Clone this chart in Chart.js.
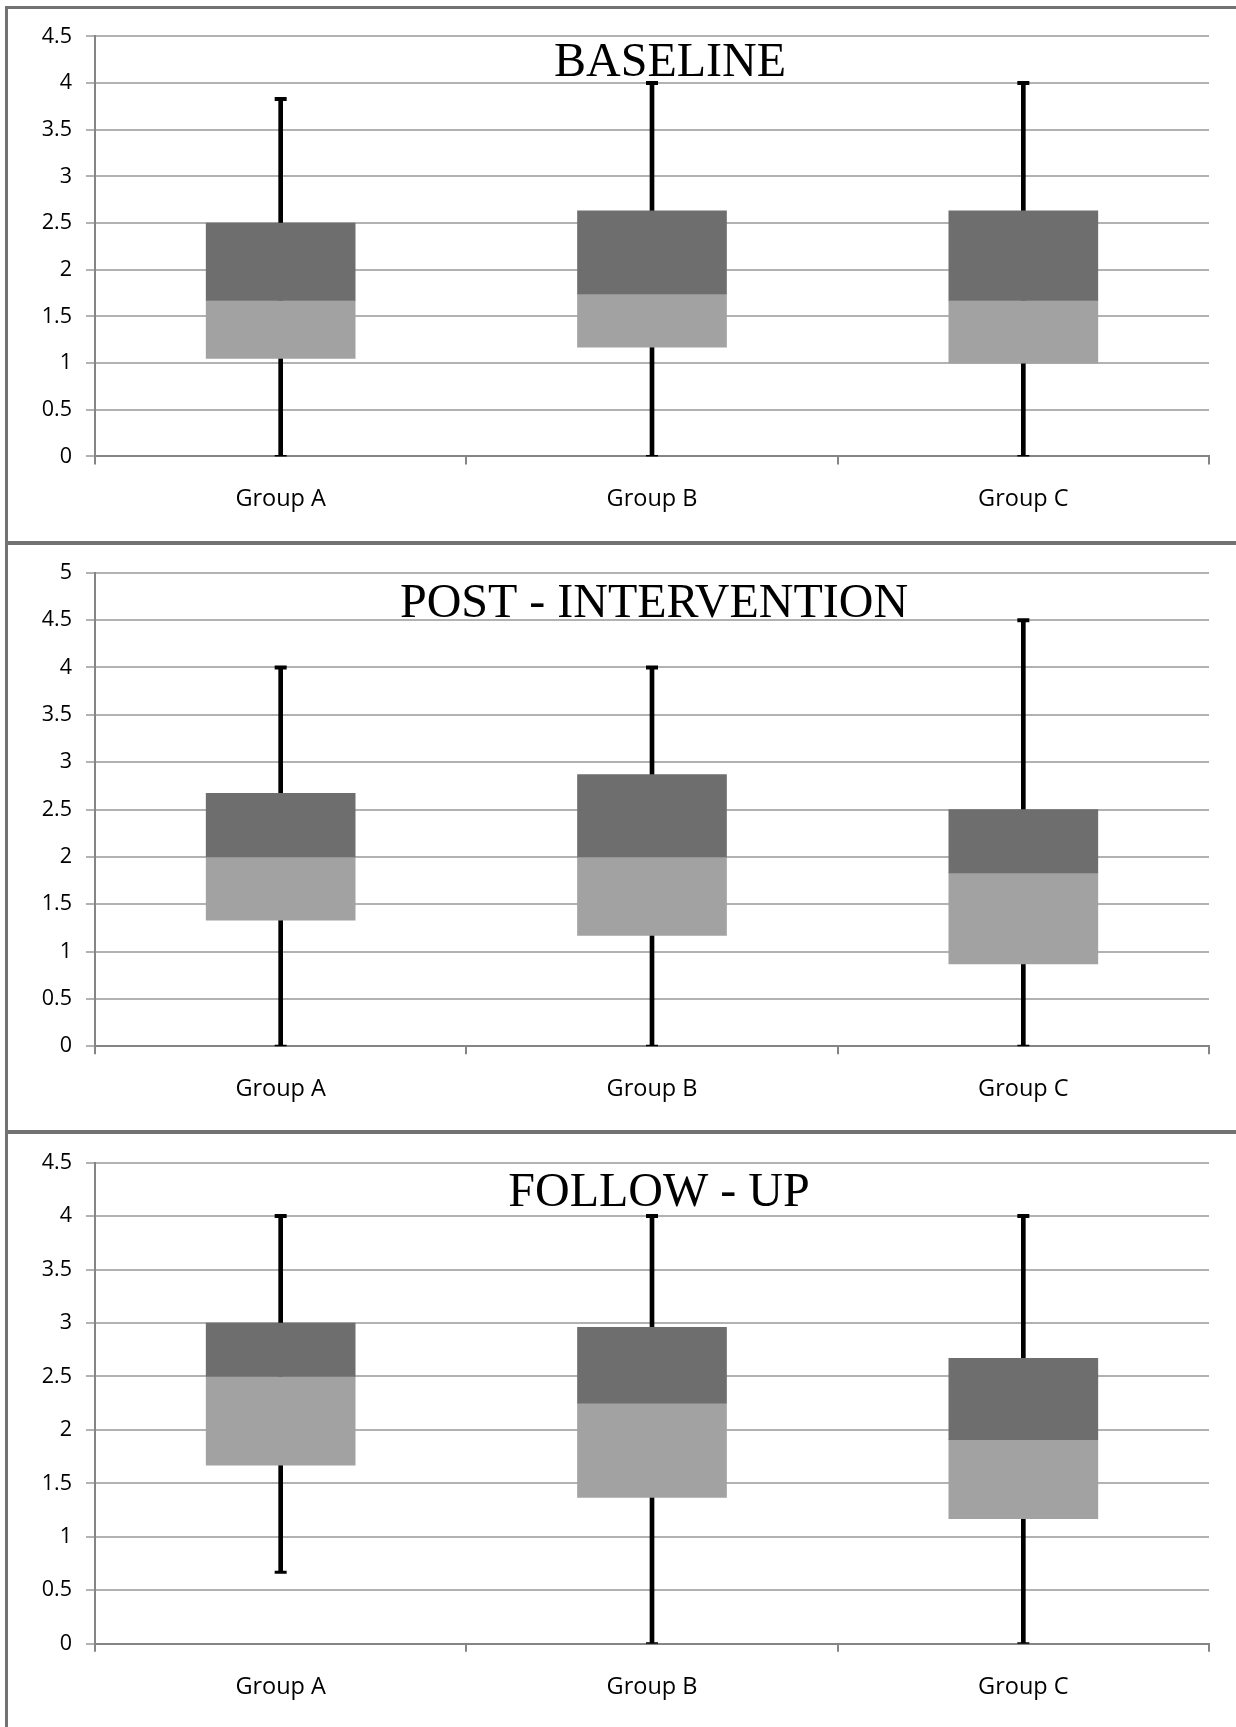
<!DOCTYPE html>
<html>
<head>
<meta charset="utf-8">
<script src="https://cdn.jsdelivr.net/npm/chart.js@4.4.0/dist/chart.umd.min.js"></script>
<style>
  html, body { margin: 0; padding: 0; background: #fff; }
  body { width: 1236px; height: 1727px; position: relative; overflow: hidden; }
  .panel { position: absolute; left: 9px; width: 1227px; }
  .line { position: absolute; background: #727272; }
</style>
</head>
<body>
<!-- frame lines -->
<div class="line" style="left:5px; top:6px; width:1231px; height:3px"></div>
<div class="line" style="left:5px; top:6px; width:3px; height:1721px"></div>
<div class="line" style="left:5px; top:541px; width:1231px; height:4px"></div>
<div class="line" style="left:5px; top:1130px; width:1231px; height:4px"></div>

<div class="panel" style="top:9px; height:532px"><canvas id="c-base"></canvas></div>
<div class="panel" style="top:545px; height:585px"><canvas id="c-post"></canvas></div>
<div class="panel" style="top:1134px; height:593px"><canvas id="c-follow"></canvas></div>

<script>
/* ── data ─────────────────────────────────────────────────────────────── */
const groups = ['Group A', 'Group B', 'Group C'];

const baselineMin    = [0, 0, 0];
const baselineQ1     = [1.05, 1.17, 1.0];
const baselineMedian = [1.67, 1.74, 1.67];
const baselineQ3     = [2.5, 2.63, 2.63];
const baselineMax    = [3.83, 4, 4];

const postMin    = [0, 0, 0];
const postQ1     = [1.33, 1.17, 0.87];
const postMedian = [2.0, 2.0, 1.83];
const postQ3     = [2.67, 2.87, 2.5];
const postMax    = [4, 4, 4.5];

const followMin    = [0.67, 0, 0];
const followQ1     = [1.67, 1.37, 1.17];
const followMedian = [2.5, 2.25, 1.91];
const followQ3     = [3.0, 2.96, 2.67];
const followMax    = [4, 4, 4];

const yMaxes = [4.5, 5, 4.5];
const titles = ['BASELINE', 'POST - INTERVENTION', 'FOLLOW - UP'];

/* ── styling ──────────────────────────────────────────────────────────── */
const DARK   = '#6e6e6e';
const LIGHT  = '#a2a2a2';
const GRID   = '#b2b2b2';
const AXIS   = '#858585';
const TEXT   = '#000';
const SANS   = "'Open Sans', sans-serif";

// title drawn inside plot area
const innerTitle = {
    id: 'innerTitle',
    afterDraw(chart, args, opts) {
        const ctx = chart.ctx;
        ctx.save();
        ctx.font = '48px "Liberation Serif", "Times New Roman", serif';
        ctx.fillStyle = '#000';
        ctx.textAlign = 'center';
        ctx.textBaseline = 'alphabetic';
        ctx.fillText(opts.text, opts.x, opts.y);
        ctx.restore();
    }
};

function buildPanel(canvasId, p) {
    const el = document.getElementById(canvasId);
    const pairs = (a, b) => a.map((v, i) => [v, b[i]]);

    return new Chart(el, {
        type: 'bar',
        data: {
            labels: groups,
            datasets: [
                {   // caps
                    type: 'line',
                    data: p.max,
                    showLine: false,
                    pointStyle: 'line',
                    pointRadius: 6,
                    pointBorderWidth: 4,
                    pointBorderColor: '#000',
                    order: 0
                },
                {
                    type: 'line',
                    data: p.min,
                    showLine: false,
                    pointStyle: 'line',
                    pointRadius: 6,
                    pointBorderWidth: 3,
                    pointBorderColor: '#000',
                    order: 0
                },
                {   // upper box
                    data: pairs(p.median, p.q3),
                    backgroundColor: DARK,
                    barThickness: 149,
                    grouped: false,
                    order: 1
                },
                {   // lower box
                    data: pairs(p.q1, p.median),
                    backgroundColor: LIGHT,
                    barThickness: 149,
                    grouped: false,
                    order: 2
                },
                {   // whisker
                    data: pairs(p.min, p.max),
                    backgroundColor: '#000',
                    barThickness: 4,
                    grouped: false,
                    order: 3
                }
            ]
        },
        options: {
            responsive: true,
            maintainAspectRatio: false,
            animation: false,
            layout: { padding: { top: p.padTop, bottom: p.padBottom, left: 0, right: 27 } },
            plugins: {
                legend: { display: false },
                tooltip: { enabled: false },
                innerTitle: { text: p.title, x: p.titleX, y: p.titleY }
            },
            scales: {
                x: {
                    offset: true,
                    grid: { drawOnChartArea: false, drawTicks: true, tickLength: 8, color: AXIS, lineWidth: 2 },
                    border: { color: AXIS, width: 2 },
                    ticks: { color: TEXT, font: { family: SANS, size: 23.5 }, padding: 21, maxRotation: 0 },
                    afterFit(scale) { scale.height = 60; }
                },
                y: {
                    min: 0,
                    max: p.yMax,
                    grid: { color: GRID, lineWidth: 2, tickLength: 9 },
                    border: { color: AXIS, width: 2 },
                    ticks: {
                        stepSize: 0.5,
                        color: TEXT,
                        font: { family: SANS, size: 21.5 },
                        padding: 14,
                        callback: v => String(v)
                    },
                    afterFit(scale) { scale.width = 86; }
                }
            }
        },
        plugins: [innerTitle]
    });
}

// panel geometry: canvas top/height (absolute) and target plot top/bottom
function pad(top, height, plotTop, plotBottom) {
    return { padTop: plotTop - top, padBottom: top + height - plotBottom - 60 };
}

buildPanel('c-base', Object.assign({
    min: baselineMin, q1: baselineQ1, median: baselineMedian, q3: baselineQ3, max: baselineMax,
    yMax: yMaxes[0], title: titles[0], titleX: 661, titleY: 67
}, pad(9, 532, 36.4, 456.4)));

buildPanel('c-post', Object.assign({
    min: postMin, q1: postQ1, median: postMedian, q3: postQ3, max: postMax,
    yMax: yMaxes[1], title: titles[1], titleX: 645, titleY: 72
}, pad(545, 585, 572.8, 1046.2)));

buildPanel('c-follow', Object.assign({
    min: followMin, q1: followQ1, median: followMedian, q3: followQ3, max: followMax,
    yMax: yMaxes[2], title: titles[2], titleX: 650, titleY: 72
}, pad(1134, 593, 1162.6, 1643.8)));
</script>
</body>
</html>
